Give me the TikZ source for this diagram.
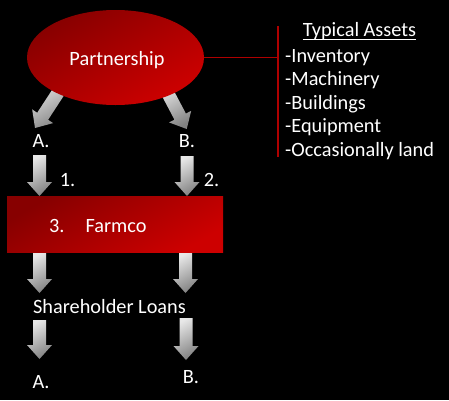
\documentclass[tikz,border=0pt]{standalone}
\usepackage{fontspec}
\setmainfont{Carlito}
\usetikzlibrary{shapes.geometric,calc}
\definecolor{brdred}{RGB}{175,0,0}
\definecolor{reddark}{RGB}{135,0,0}
\definecolor{redlight}{RGB}{205,0,0}
\definecolor{arrlight}{RGB}{232,232,232}
\definecolor{arrdark}{RGB}{130,130,130}
\tikzset{
  lbl/.style={text=white, font=\fontsize{20.3pt}{23.5pt}\selectfont, inner sep=0pt, anchor=base},
  redshape/.style={top color=reddark, bottom color=redlight, shading angle=30, draw=none, inner sep=0pt},
  blk/.style={top color=arrlight, bottom color=arrdark, shading angle=30}
}
\newcommand{\blkarrow}[2]{%
  \shade[blk] let \p1=(#1), \p2=(#2), \n1={atan2(\y2-\y1,\x2-\x1)}, \n2={veclen(\x2-\x1,\y2-\y1)} in
    [shift={(\p1)}, rotate=\n1]
    (0pt,-6.5pt) -- ({\n2*1pt-14pt},-6.5pt) -- ({\n2*1pt-14pt},-12.5pt) -- ({\n2*1pt},0pt)
    -- ({\n2*1pt-14pt},12.5pt) -- ({\n2*1pt-14pt},6.5pt) -- (0pt,6.5pt) -- cycle;}

\begin{document}
\begin{tikzpicture}[x=1pt,y=-1pt]
          \fill[black] (0,0) rectangle (449,400);
          \useasboundingbox (0,0) rectangle (449,400);
          \coordinate (ptA) at (65,82);
          \coordinate (ptAe) at (35,128);
          \coordinate (ptB) at (163.5,85);
          \coordinate (ptBe) at (186.7,129);
          \coordinate (inA) at (39.5,155);
          \coordinate (inAe) at (39.5,196);
          \coordinate (inB) at (187,156);
          \coordinate (inBe) at (187,196);
          \coordinate (outA) at (39.5,253);
          \coordinate (outAe) at (39.5,293);
          \coordinate (outB) at (185.5,253);
          \coordinate (outBe) at (185.5,293);
          \coordinate (loanA) at (39.5,320);
          \coordinate (loanAe) at (39.5,359);
          \coordinate (loanB) at (186,318);
          \coordinate (loanBe) at (186,360);
          \blkarrow{ptA}{ptAe}
          \blkarrow{ptB}{ptBe}
          \blkarrow{inA}{inAe}
          \blkarrow{inB}{inBe}
          \blkarrow{outA}{outAe}
          \blkarrow{outB}{outBe}
          \blkarrow{loanA}{loanAe}
          \blkarrow{loanB}{loanBe}
          \node[ellipse, redshape, minimum width=177pt, minimum height=95pt] (partner) at (115.5,57.5) {};
          \node[rectangle, redshape, minimum width=216pt, minimum height=56pt, anchor=north west] (farmco) at (7,196) {};
          \node[lbl] (partnerlbl) at (117,65) {Partnership};
          \node[lbl, anchor=base west] (farmcolbl) at (49,232) {3.\hspace{21pt}Farmco};
          \node[lbl] (topA) at (41,147) {A.};
          \node[lbl] (topB) at (187,147) {B.};
          \node[lbl] (stepone) at (67.5,186) {1.};
          \node[lbl] (steptwo) at (211.5,186) {2.};
          \node[lbl] (loans) at (109.5,313) {Shareholder Loans};
          \node[lbl] (botA) at (41,388) {A.};
          \node[lbl] (botB) at (191,383) {B.};
          \coordinate (brtop) at (278,26);
          \coordinate (brbot) at (278,157);
          \draw[brdred, line width=2pt] (brtop) -- (brbot);
          \draw[brdred, line width=1.3pt] (partner.east) -- (partner.east -| brtop);
          \node[lbl] (assets) at (359.5,36) {Typical Assets};
          \draw[white, line width=1pt] ($(assets.base west)+(0,3)$) -- ($(assets.base east)+(0,3)$);
          \node[lbl, anchor=base west] (inventory) at (285,62) {-Inventory};
          \node[lbl, anchor=base west] (machinery) at (285,85.5) {-Machinery};
          \node[lbl, anchor=base west] (buildings) at (285,109) {-Buildings};
          \node[lbl, anchor=base west] (equipment) at (285,132.5) {-Equipment};
          \node[lbl, anchor=base west] (land) at (285,156) {-Occasionally land};
        \end{tikzpicture}
\end{document}
